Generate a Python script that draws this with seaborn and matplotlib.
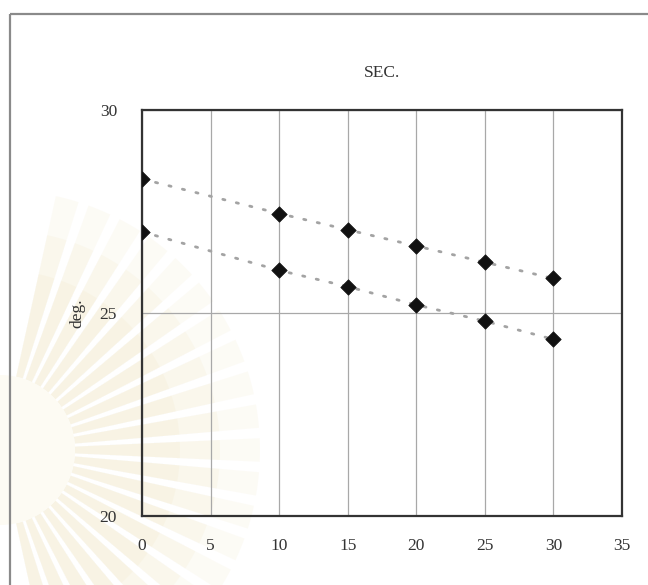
import matplotlib
matplotlib.use("Agg")
import matplotlib.pyplot as plt
from matplotlib.patches import Rectangle, Wedge, Circle
import numpy as np
import pandas as pd
import seaborn as sns

# Measurements at each position (deg.)
positions = [0, 10, 15, 20, 25, 30]
upper_deg = [28.3, 27.45, 27.05, 26.65, 26.25, 25.85]
lower_deg = [27.0, 26.05, 25.65, 25.2, 24.8, 24.35]
x_ticks = [0, 5, 10, 15, 20, 25, 30, 35]
y_ticks = [20, 25, 30]

df = pd.DataFrame({
    "x": positions * 2,
    "deg": upper_deg + lower_deg,
    "series": ["upper"] * len(positions) + ["lower"] * len(positions),
})

sns.set_style("white")
plt.rcParams["font.family"] = ["Liberation Serif", "DejaVu Serif"]

fig = plt.figure(figsize=(6.48, 5.85), dpi=100)

# faint sunburst emblem in the page background (pixel coordinates)
bg = fig.add_axes([0, 0, 1, 1], zorder=0)
bg.set_xlim(0, 648)
bg.set_ylim(585, 0)
bg.axis("off")
cx, cy = 0, 450
for a in np.arange(-75, 80, 7.5):
    for r, al in [(260, 0.10), (220, 0.10), (180, 0.10)]:
        bg.add_patch(Wedge((cx, cy), r, -a - 2.6, -a + 2.6, width=r - 75,
                           facecolor="#e9d9a6", edgecolor="none", alpha=al))
bg.add_patch(Circle((cx, cy), 75, facecolor="#fdfbf3", edgecolor="none"))

# outer frame around the chart
bg.add_patch(Rectangle((10, 14), 700, 700, fill=False,
                       edgecolor="#8a8a8a", linewidth=1.6))

ax = fig.add_axes([0.2191, 0.118, 0.7407, 0.694], zorder=1)
ax.set_facecolor("none")

for s in ["upper", "lower"]:
    sub = df[df["series"] == s]
    sns.lineplot(data=sub, x="x", y="deg", ax=ax, color="#a3a3a3",
                 linewidth=2.0, linestyle=(0, (0.8, 4.2)), dash_capstyle="round",
                 zorder=2)
sns.scatterplot(data=df, x="x", y="deg", ax=ax, marker="D", color="#111111",
                s=62, edgecolor="#111111", linewidth=0.5, zorder=3)

ax.set_xlim(0, 35)
ax.set_ylim(20, 30)
ax.set_xticks(x_ticks)
ax.set_yticks(y_ticks)
ax.grid(True, color="#a8a8a8", linewidth=0.9)
ax.set_axisbelow(True)
for sp in ax.spines.values():
    sp.set_visible(True)
    sp.set_color("#333333")
    sp.set_linewidth(1.6)

ax.tick_params(axis="both", length=0, labelsize=12.5, colors="#333333")
ax.tick_params(axis="x", pad=16)
ax.tick_params(axis="y", pad=18)
ax.set_xlabel("")
ax.set_ylabel("deg.", fontsize=12.5, color="#333333", labelpad=10)
ax.set_title("SEC.", fontsize=12.5, color="#333333", pad=24)

fig.savefig("out.png", dpi=100)
